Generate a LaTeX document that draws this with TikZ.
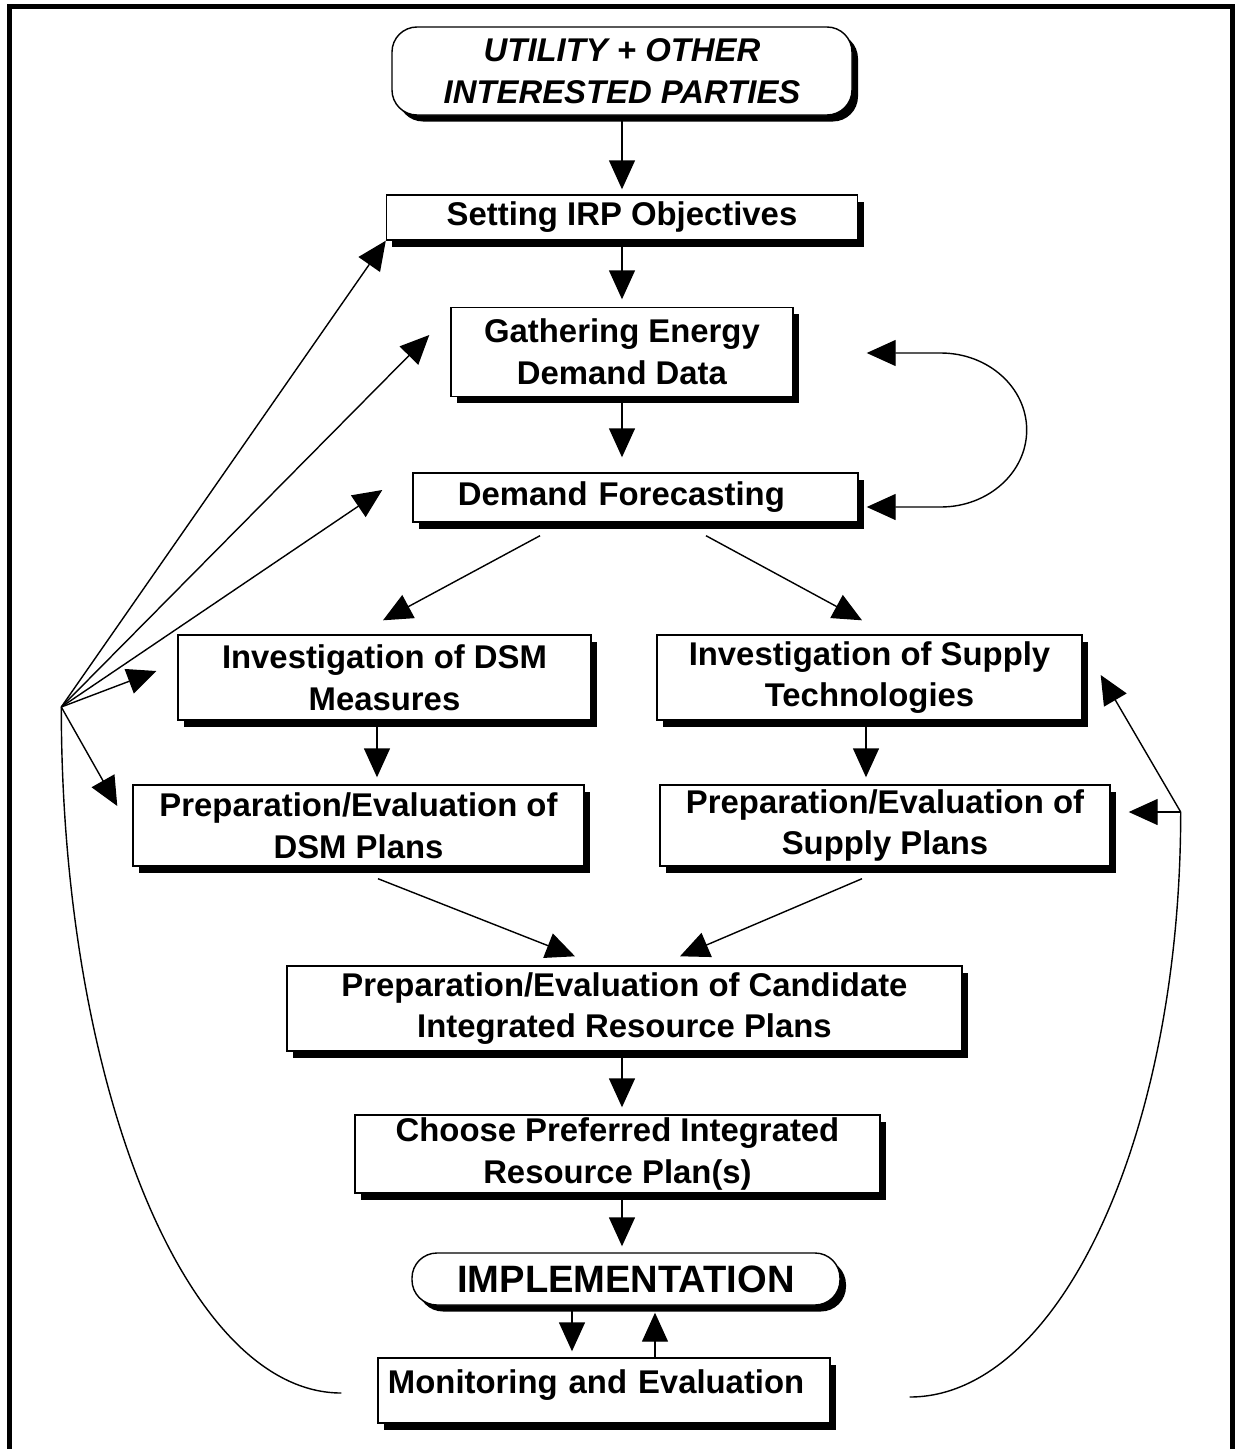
\documentclass[tikz,border=0pt]{standalone}
\usepackage{fontspec}
\setmainfont{Liberation Sans}
\usetikzlibrary{arrows.meta,positioning,shadows,calc}
\tikzstyle{stage}=[draw, fill=white, line width=0.8pt, inner sep=0pt, align=center, drop shadow={shadow xshift=0.12cm, shadow yshift=-0.13cm, fill=black, opacity=1}]
\tikzstyle{party}=[stage, rounded corners=0.5cm]
\tikzstyle{flowarrow}=[->, line width=0.8pt]
\tikzstyle{feedback}=[line width=0.8pt]
\begin{document}
\begin{tikzpicture}[>={Triangle[length=0.58cm,width=0.52cm]},font=\bfseries\fontsize{18.7}{23.8}\selectfont]
\useasboundingbox (-12.44,1.42) rectangle (12.26,-27.56);
% frame, open at the bottom
\draw[line width=0.1cm] (-12.25,-28) -- (-12.25,1.28) -- (12.2,1.28) -- (12.2,-28);
% stages
\node[party, minimum width=9.2cm, minimum height=1.76cm, font=\bfseries\itshape\fontsize{18.7}{23.8}\selectfont] (util) {UTILITY + OTHER\\INTERESTED PARTIES};
\node[stage, minimum width=9.42cm, minimum height=0.9cm] (set) [below of=util, node distance=2.93cm] {Setting IRP Objectives};
\node[stage, minimum width=6.84cm, minimum height=1.78cm] (gath) [below of=set, node distance=2.69cm] {Gathering Energy\\Demand Data};
\node[stage, text width=7.1cm, align=left, inner xsep=0.9cm, text height=0.64cm, text depth=0.34cm] (fore) [below of=gath, node distance=2.91cm, xshift=0.27cm] {Demand Forecasting};
\node[stage, minimum width=8.26cm, minimum height=1.7cm] (dsmi) [below of=fore, node distance=3.6cm, xshift=-5.02cm] {Investigation of DSM\\Measures};
\node[stage, minimum width=8.5cm, minimum height=1.7cm] (supi) [below of=fore, node distance=3.6cm, xshift=4.68cm] {Investigation of Supply\\Technologies};
\node[stage, minimum width=9.02cm, minimum height=1.62cm] (dsmp) [below of=dsmi, node distance=2.96cm, xshift=-0.52cm] {Preparation/Evaluation of\\DSM Plans};
\node[stage, minimum width=9cm, minimum height=1.62cm] (supp) [below of=supi, node distance=2.96cm, xshift=0.31cm] {Preparation/Evaluation of\\Supply Plans};
\node[stage, minimum width=13.5cm, minimum height=1.7cm] (cand) [below of=fore, node distance=10.22cm, xshift=-0.22cm] {Preparation/Evaluation of Candidate\\Integrated Resource Plans};
\node[stage, minimum width=10.5cm, minimum height=1.56cm] (choo) [below of=cand, node distance=2.91cm, xshift=-0.14cm] {Choose Preferred Integrated\\Resource Plan(s)};
\node[party, minimum width=8.56cm, minimum height=1.04cm, font=\bfseries\fontsize{21.7}{26}\selectfont] (impl) [below of=choo, node distance=2.5cm, xshift=0.17cm] {IMPLEMENTATION};
\node[stage, text width=8.64cm, align=left, inner xsep=0.2cm, text height=0.7cm, text depth=0.6cm] (moni) [below of=impl, node distance=2.23cm, xshift=-0.44cm] {Monitoring and Evaluation};
% hubs of the feedback lines
\coordinate (hub) at ($(dsmi.west)+(-2.32,-0.59)$);
\coordinate (rhub) at ($(supp.east)+(1.4,0.27)$);
% main flow
\path[flowarrow]
  (util) edge[shorten >=0.1cm] (set)
  (set) edge[shorten >=0.15cm] (gath)
  (gath.south) edge[shorten >=0.3cm] (gath.south |- fore.north)
  ($(fore.south)+(-1.91,-0.26)$) edge ($(dsmi.north)+(-0.03,0.28)$)
  ($(fore.south)+(1.41,-0.26)$) edge ($(supi.north)+(-0.15,0.28)$)
  ($(dsmi.south)+(-0.15,0)$) edge ($(dsmi.south |- dsmp.north)+(-0.15,0.14)$)
  ($(supi.south)+(-0.07,0)$) edge ($(supi.south |- supp.north)+(-0.07,0.14)$)
  ($(dsmp.south)+(0.39,-0.24)$) edge ($(cand.north)+(-0.99,0.18)$)
  ($(supp.south)+(-0.46,-0.24)$) edge ($(cand.north)+(1.11,0.18)$)
  ($(cand.south)+(-0.05,0)$) edge ($(cand.south |- choo.north)+(-0.05,0.14)$)
  ($(choo.south)+(0.09,0)$) edge ($(choo.south |- impl.north)+(0.09,0.12)$)
  ($(impl.south)+(-1.08,0)$) edge ($(impl.south |- moni.north)+(-1.08,0.12)$)
  ($(moni.north)+(1.02,0)$) edge ($(impl.south -| moni.north)+(1.02,-0.14)$);
% loop between data and forecast
\draw[flowarrow, <->] ($(gath.east)+(1.46,-0.02)$) -- ++(1.48,0) arc[start angle=90, end angle=-90, x radius=1.72cm, y radius=1.54cm] -- ($(fore.east)+(0.16,-0.19)$);
% feedback from monitoring
\draw[feedback] ($(moni.west)+(-0.72,-0.05)$) .. controls +(-3.1,0) and +(0,-7.57) .. (hub);
\draw[feedback] ($(moni.east)+(1.58,-0.13)$) .. controls +(3.0,0) and +(0,-6.46) .. (rhub);
\path[flowarrow]
  (hub) edge (set.south west)
  (hub) edge ($(gath.west)+(-0.42,0.34)$)
  (hub) edge ($(fore.west)+(-0.6,0.15)$)
  (hub) edge ($(dsmi.west)+(-0.42,0.13)$)
  (hub) edge ($(dsmp.west)+(-0.3,0.39)$)
  (rhub) edge ($(supp.east)+(0.36,0.27)$)
  (rhub) edge ($(supi.east)+(0.36,0.05)$);
\end{tikzpicture}
\end{document}
